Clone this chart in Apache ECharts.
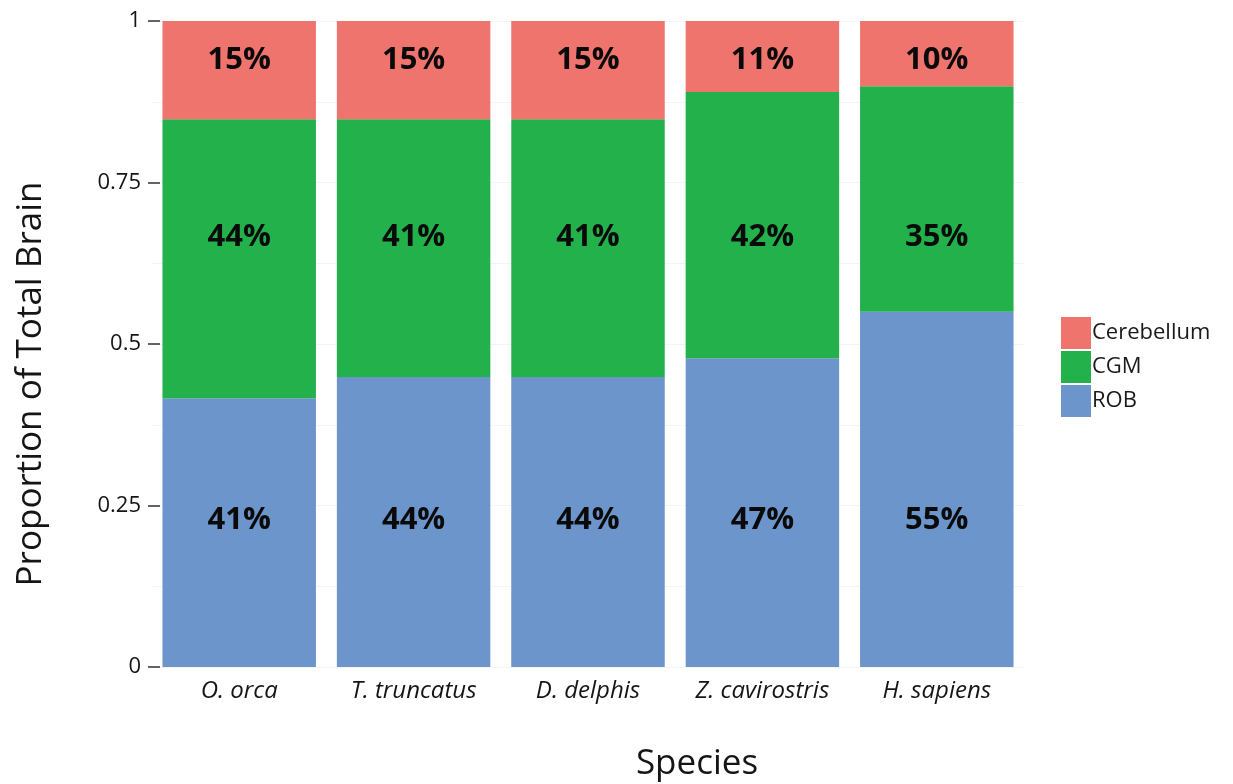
<!DOCTYPE html>
<html>
<head>
<meta charset="utf-8">
<script src="https://cdn.jsdelivr.net/npm/echarts@6/dist/echarts.min.js"></script>
<style>html,body{margin:0;padding:0;background:#fff}#c{width:1233px;height:784px}</style>
</head>
<body>
<div id="c"></div>
<script>
const species = ['O. orca', 'T. truncatus', 'D. delphis', 'Z. cavirostris', 'H. sapiens'];
const rob = [0.416, 0.449, 0.449, 0.478, 0.550];
const cgm = [0.432, 0.399, 0.399, 0.412, 0.349];
const cerebellum = [0.152, 0.152, 0.152, 0.110, 0.101];
const robLabels = ['41%', '44%', '44%', '47%', '55%'];
const cgmLabels = ['44%', '41%', '41%', '42%', '35%'];
const cerebellumLabels = ['15%', '15%', '15%', '11%', '10%'];
const yTicks = [0, 0.25, 0.5, 0.75, 1];

const FONT = '"Open Sans", "Noto Sans", sans-serif';
const colors = { Cerebellum: '#f0746e', CGM: '#22b14b', ROB: '#6c95cb' };
// fixed label heights (in axis units) as in the original figure
const labelLevel = { Cerebellum: 0.94, CGM: 0.665, ROB: 0.227 };

function labelSeries(name, labels) {
  return {
    type: 'scatter', name: name + '_lbl', symbolSize: 0, silent: true, z: 10,
    itemStyle: { opacity: 1, color: '#000' },
    data: labels.map((t, i) => ({ value: [species[i], labelLevel[name]], lbl: t })),
    label: {
      show: true, position: 'inside', color: '#0a0a0a', opacity: 1, fontFamily: FONT,
      fontWeight: 'bold', fontSize: 31, textBorderWidth: 0,
      formatter: p => p.data.lbl
    },
    tooltip: { show: false }
  };
}

const chart = echarts.init(document.getElementById('c'));
chart.setOption({
  animation: false,
  backgroundColor: '#fff',
  grid: { left: 152, right: 209, top: 21, bottom: 117 },
  legend: {
    orient: 'vertical', left: 1056, top: 312,
    itemWidth: 30, itemHeight: 32, itemGap: 2,
    data: ['Cerebellum', 'CGM', 'ROB'],
    textStyle: { fontFamily: FONT, fontSize: 22, color: '#1a1a1a', padding: [0, 0, 0, -4] },
    icon: 'rect'
  },
  xAxis: {
    type: 'category', data: species,
    axisLine: { show: false }, axisTick: { show: false },
    axisLabel: { fontFamily: FONT, fontStyle: 'italic', fontSize: 24, color: '#151515', margin: 12 }
  },
  yAxis: {
    type: 'value', min: 0, max: 1, interval: 0.25, offset: -8,
    axisLine: { show: false },
    axisTick: { show: true, length: 12, lineStyle: { color: '#333', width: 1.5 } },
    axisLabel: {
      fontFamily: FONT, fontSize: 22, color: '#151515', margin: 19,
      formatter: v => yTicks.includes(v) ? String(v) : ''
    },
    splitLine: { show: true, lineStyle: { color: '#f4f4f4' } },
    minorTick: { show: false, splitNumber: 2 },
    minorSplitLine: { show: true, lineStyle: { color: '#f4f4f4' } }
  },
  graphic: [
    {
      type: 'text', x: 697, y: 764,
      style: { text: 'Species', fontFamily: FONT, fontSize: 35, fill: '#151515', textAlign: 'center', textVerticalAlign: 'middle' }
    },
    {
      type: 'text', x: 31, y: 384, rotation: Math.PI / 2,
      style: { text: 'Proportion of Total Brain', fontFamily: FONT, fontSize: 35, fill: '#151515', textAlign: 'center', textVerticalAlign: 'middle' }
    }
  ],
  series: [
    { type: 'bar', name: 'ROB', stack: 's', data: rob, barCategoryGap: '12%', itemStyle: { color: colors.ROB } },
    { type: 'bar', name: 'CGM', stack: 's', data: cgm, itemStyle: { color: colors.CGM } },
    { type: 'bar', name: 'Cerebellum', stack: 's', data: cerebellum, itemStyle: { color: colors.Cerebellum } },
    labelSeries('ROB', robLabels),
    labelSeries('CGM', cgmLabels),
    labelSeries('Cerebellum', cerebellumLabels)
  ]
});
</script>
</body>
</html>
